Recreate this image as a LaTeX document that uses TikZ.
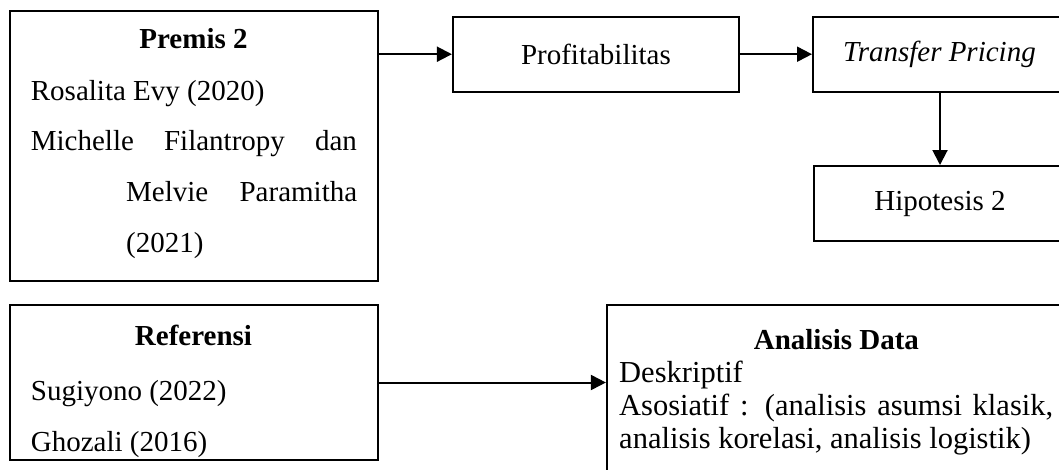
\documentclass[tikz,border=0pt]{standalone}
\usepackage{fontspec}
\setmainfont{Liberation Serif}
\usetikzlibrary{arrows.meta}
\begin{document}
\begin{tikzpicture}[x=1pt,y=-1pt,
  box/.style={draw, line width=2pt, inner sep=0pt},
  arr/.style={line width=2pt, -{Triangle[length=15pt,width=15pt]}},
  txt/.style={inner sep=0pt, font=\fontsize{29}{33}\selectfont},
  body/.style={inner sep=0pt, font=\fontsize{30.5}{33}\selectfont},
  every node/.append style={font=\fontsize{29}{33}\selectfont}
]
\useasboundingbox (0,0) rectangle (1059,469);
\clip (0,0) rectangle (1059,469);
% boxes
\node[box, minimum width=368pt, minimum height=270pt] (premis) at (193.5,145.8) {};
\node[box, minimum width=286pt, minimum height=75pt] (profit) at (595.9,54.2) {Profitabilitas};
\node[box, minimum width=253pt, minimum height=75pt] (transfer) at (939.5,54.2) {\itshape Transfer Pricing};
\node[box, minimum width=252pt, minimum height=75pt] (hipo) at (940,203.5) {Hipotesis 2};
\node[box, minimum width=368pt, minimum height=155pt] (ref) at (193.5,382.5) {};
\node[box, minimum width=459pt, minimum height=186pt] (ana) at (836.4,397.5) {};
% premis text
\node[txt, anchor=base] (pt) at (193.5,48.6) {\bfseries Premis 2};
\node[txt, anchor=base west] (p1) at (30.7,100.6) {Rosalita Evy (2020)};
\node[txt, anchor=base west] (p2) at (30.7,150.6) {\makebox[326pt][s]{Michelle Filantropy dan}};
\node[txt, anchor=base west] (p3) at (126,201.6) {\makebox[231pt][s]{Melvie Paramitha}};
\node[txt, anchor=base west] (p4) at (126,252.6) {(2021)};
% referensi text
\node[txt, anchor=base] (rt) at (193.5,345.6) {\bfseries Referensi};
\node[txt, anchor=base west] (r1) at (30.7,400.5) {Sugiyono (2022)};
\node[txt, anchor=base west] (r2) at (30.7,451) {Ghozali (2016)};
% analisis text
\node[txt, anchor=base] (at) at (836.4,349.5) {\bfseries Analisis Data};
\node[body, anchor=base west] (a1) at (619,382.7) {Deskriptif};
\node[body, anchor=base west] (a2) at (619,415.5) {\makebox[434pt][s]{Asosiatif : (analisis asumsi klasik,}};
\node[body, anchor=base west] (a3) at (619,448.3) {analisis korelasi, analisis logistik)};
% arrows
\draw[arr] (premis.east |- profit.west) -- (profit.west);
\draw[arr] (profit.east) -- (transfer.west);
\draw[arr] (hipo.north |- transfer.south) -- (hipo.north);
\draw[arr] (ref.east) -- (ref.east -| ana.west);
\end{tikzpicture}
\end{document}
